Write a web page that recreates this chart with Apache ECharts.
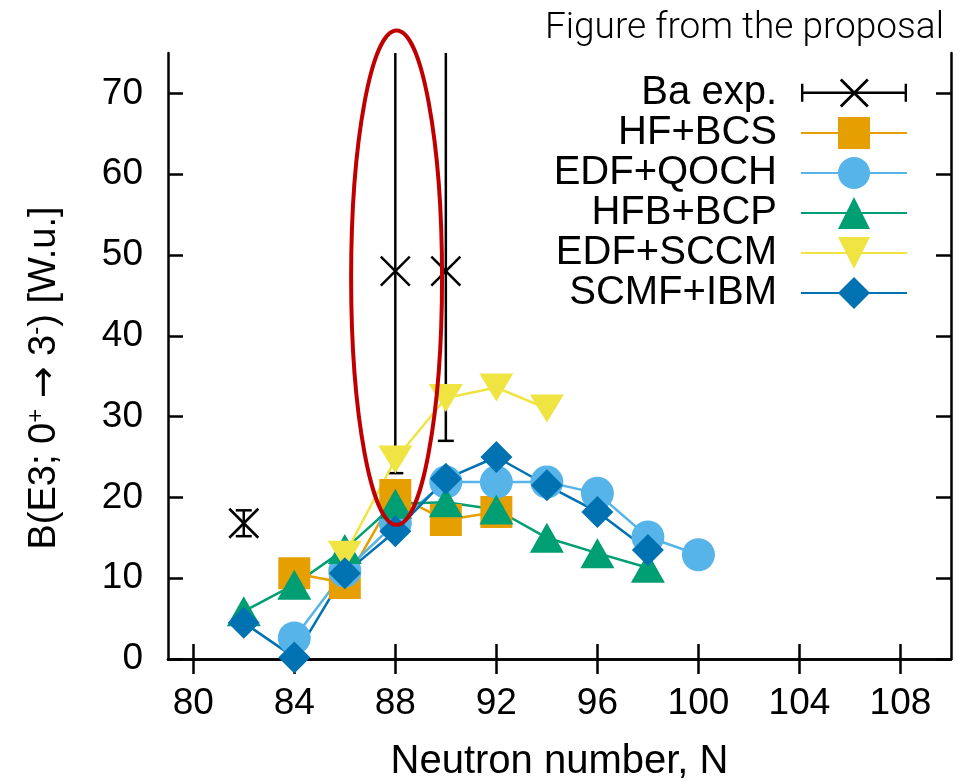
<!DOCTYPE html>
<html>
<head>
<meta charset="utf-8">
<script src="https://cdn.jsdelivr.net/npm/echarts@6/dist/echarts.min.js"></script>
<style>
  html, body { margin: 0; padding: 0; background: #fff; }
  #main { width: 977px; height: 781px; }
</style>
</head>
<body>
<div id="main"></div>
<script>
// tick labels
var xTicks = [80, 84, 88, 92, 96, 100, 104, 108]
var yTicks = [0, 10, 20, 30, 40, 50, 60, 70]

// Ba experiment: N, value, lower end, upper end of error bar
var baN = [82, 88, 90]
var baVal = [16.8, 48.0, 48.0]
var baLow = [15.2, 23.0, 27.0]
var baHigh = [18.4, 100, 100]

// theory curves
var hfbcsN = [84, 86, 88, 90, 92]
var hfbcsB = [10.6, 9.4, 20.3, 17.2, 18.2]

var qochN = [84, 86, 88, 90, 92, 94, 96, 98, 100]
var qochB = [2.6, 10.9, 16.8, 21.9, 21.9, 21.9, 20.5, 15.1, 12.9]

var bcpN = [82, 84, 86, 88, 90, 92, 94, 96, 98]
var bcpB = [5.9, 9.2, 13.6, 19.2, 19.4, 18.5, 15.0, 13.1, 11.3]

var sccmN = [86, 88, 90, 92, 94]
var sccmB = [12.9, 24.7, 32.3, 33.6, 31.0]

var ibmN = [82, 84, 86, 88, 90, 92, 94, 96, 98]
var ibmB = [4.5, 0.2, 10.6, 15.8, 22.3, 25.0, 21.5, 18.2, 13.5]

// red ellipse highlighting N=88 (center N, center B, half width in N, half height in B)
var ringCenter = [88.05, 47.2]
var ringHalf = [1.8, 30.6]

function pairs(xs, ys) {
  return xs.map(function (x, i) { return [x, ys[i]] })
}

var font = 'Liberation Sans, Arial, sans-serif'

// legend glyph for the error bar entry (106 x 40 box)
var errIcon = 'path://M0 18.8L106 18.8L106 21.2L0 21.2Z' +
  'M0 11L2.4 11L2.4 29L0 29Z M103.6 11L106 11L106 29L103.6 29Z' +
  'M40.8 5.8L67.8 32.8L65.8 34.6L38.8 7.6Z' +
  'M38.8 32.8L65.8 5.8L67.8 7.6L40.8 34.6Z'

function lineSeries(name, data, color, symbol, size, rotate) {
  return {
    name: name,
    type: 'line',
    data: data,
    symbol: symbol,
    symbolSize: size,
    symbolRotate: rotate || 0,
    showAllSymbol: true,
    xAxisIndex: 0,
    yAxisIndex: 0,
    lineStyle: { color: color, width: 2.5 },
    itemStyle: { color: color, borderWidth: 0 },
    emphasis: { disabled: true },
    animation: false
  }
}

var myChart = echarts.init(document.getElementById('main'))

var option = {
  backgroundColor: '#fff',
  animation: false,
  title: {
    text: 'Figure from the proposal',
    right: 28,
    top: 5,
    textStyle: { fontFamily: 'Roboto', fontWeight: 300, fontSize: 37, color: '#000' }
  },
  grid: { left: 168, right: 26, top: 53, bottom: 122, outerBoundsMode: 'none' },
  legend: {
    orient: 'vertical',
    right: 64,
    top: 68,
    align: 'right',
    itemWidth: 106,
    itemHeight: 40,
    itemGap: 0,
    selectedMode: false,
    textStyle: { fontFamily: font, fontSize: 40, color: '#000', padding: [0, 19, 0, 0] },
    data: [
      { name: 'Ba exp.', icon: errIcon },
      'HF+BCS', 'EDF+QOCH', 'HFB+BCP', 'EDF+SCCM', 'SCMF+IBM'
    ]
  },
  xAxis: [
    {
      type: 'value',
      min: 79,
      max: 110,
      name: 'Neutron number, N',
      nameLocation: 'middle',
      nameGap: 83,
      nameTextStyle: { fontFamily: font, fontSize: 40, color: '#000' },
      axisLine: { lineStyle: { color: '#000', width: 2.5 } },
      axisTick: { inside: true, length: 15, customValues: xTicks, lineStyle: { color: '#000', width: 2.5 } },
      axisLabel: { customValues: xTicks, margin: 26, fontFamily: font, fontSize: 37, color: '#000' },
      splitLine: { show: false }
    },
    {
      type: 'value',
      position: 'top',
      min: 79,
      max: 110,
      axisLine: { lineStyle: { color: '#000', width: 2.5 } },
      axisTick: { inside: true, length: 15, customValues: xTicks, lineStyle: { color: '#000', width: 2.5 } },
      axisLabel: { show: false },
      splitLine: { show: false }
    }
  ],
  yAxis: [
    {
      type: 'value',
      min: 0,
      max: 75,
      name: 'B(E3; 0{sup|+} {arr|→} 3{sup|-}) [W.u.]',
      nameLocation: 'middle',
      nameGap: 102,
      nameTextStyle: {
        fontFamily: font, fontSize: 38, color: '#000', lineHeight: 42,
        padding: [0, 44, 0, 0],
        rich: {
          sup: { fontFamily: font, fontSize: 24, color: '#000', verticalAlign: 'top', lineHeight: 24 },
          arr: { fontFamily: 'DejaVu Sans', fontSize: 38, color: '#000', lineHeight: 42 }
        }
      },
      axisLine: { lineStyle: { color: '#000', width: 2.5 } },
      axisTick: { inside: true, length: 15, customValues: yTicks, lineStyle: { color: '#000', width: 2.5 } },
      axisLabel: { customValues: yTicks, margin: 25, fontFamily: font, fontSize: 37, color: '#000' },
      splitLine: { show: false }
    },
    {
      type: 'value',
      position: 'right',
      min: 0,
      max: 75,
      axisLine: { lineStyle: { color: '#000', width: 2.5 } },
      axisTick: { inside: true, length: 15, customValues: yTicks, lineStyle: { color: '#000', width: 2.5 } },
      axisLabel: { show: false },
      splitLine: { show: false }
    }
  ],
  series: [
    {
      name: 'Ba exp.',
      type: 'custom',
      clip: true,
      xAxisIndex: 0,
      yAxisIndex: 0,
      itemStyle: { color: '#000' },
      data: baN.map(function (n, i) { return [n, baVal[i], baLow[i], baHigh[i]] }),
      renderItem: function (params, api) {
        var n = api.value(0)
        var p = api.coord([n, api.value(1)])
        var lo = api.coord([n, api.value(2)])
        var hi = api.coord([n, api.value(3)])
        var st = { stroke: '#000', lineWidth: 2.5 }
        var c = 8, s = 14.5
        return {
          type: 'group',
          children: [
            { type: 'line', shape: { x1: lo[0], y1: lo[1], x2: hi[0], y2: hi[1] }, style: st },
            { type: 'line', shape: { x1: lo[0] - c, y1: lo[1], x2: lo[0] + c, y2: lo[1] }, style: st },
            { type: 'line', shape: { x1: hi[0] - c, y1: hi[1], x2: hi[0] + c, y2: hi[1] }, style: st },
            { type: 'line', shape: { x1: p[0] - s, y1: p[1] - s, x2: p[0] + s, y2: p[1] + s }, style: st },
            { type: 'line', shape: { x1: p[0] - s, y1: p[1] + s, x2: p[0] + s, y2: p[1] - s }, style: st }
          ]
        }
      }
    },
    lineSeries('HF+BCS', pairs(hfbcsN, hfbcsB), '#E69F00', 'rect', 32),
    lineSeries('EDF+QOCH', pairs(qochN, qochB), '#56B4E9', 'circle', 33),
    lineSeries('HFB+BCP', pairs(bcpN, bcpB), '#009E73', 'triangle', [34, 30]),
    lineSeries('EDF+SCCM', pairs(sccmN, sccmB), '#F0E442', 'triangle', [34, 28], 180),
    lineSeries('SCMF+IBM', pairs(ibmN, ibmB), '#0072B2', 'diamond', 32),
    {
      name: 'ring',
      type: 'custom',
      clip: false,
      z: 10,
      silent: true,
      xAxisIndex: 0,
      yAxisIndex: 0,
      data: [[ringCenter[0], ringCenter[1], ringHalf[0], ringHalf[1]]],
      renderItem: function (params, api) {
        var p = api.coord([api.value(0), api.value(1)])
        var sz = api.size([api.value(2), api.value(3)])
        return {
          type: 'ellipse',
          shape: { cx: p[0], cy: p[1], rx: sz[0], ry: sz[1] },
          style: { fill: null, stroke: '#C00000', lineWidth: 4 }
        }
      }
    }
  ]
}

myChart.setOption(option)
</script>
</body>
</html>
